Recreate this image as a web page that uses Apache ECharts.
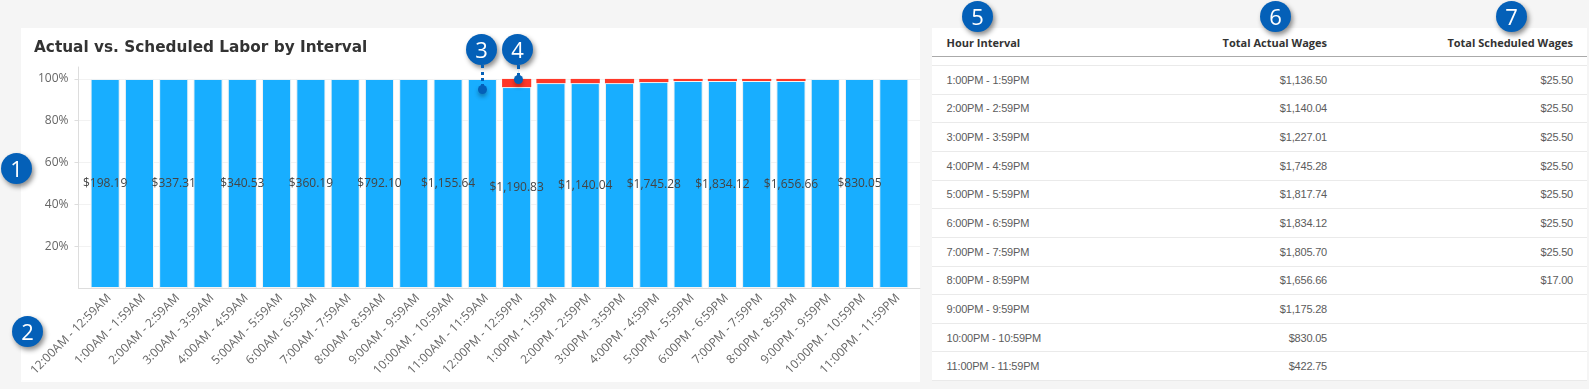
<!DOCTYPE html>
<html><head><meta charset="utf-8">
<script src="https://cdn.jsdelivr.net/npm/echarts@6/dist/echarts.min.js"></script>
<style>
html,body{margin:0;padding:0;background:#f5f5f5;width:1589px;height:389px;overflow:hidden}
#chart{position:absolute;left:0;top:0;width:1589px;height:389px}
#panel{position:absolute;left:21px;top:28px;width:899px;height:354px;background:#fff}
#tbl{position:absolute;left:932px;top:28px;width:655px;height:353px;background:#fff;font:11px "Liberation Sans",sans-serif;letter-spacing:-.2px;color:#5c5c5c}
.r{position:absolute;left:0;width:655px;border-bottom:1px solid #eaeaea;box-sizing:border-box}
.r span{position:absolute;top:50%;transform:translateY(-50%);white-space:nowrap}
.a{left:14.5px}.b{right:260px}.c{right:14px}
.h{font:700 11px "Open Sans",sans-serif;letter-spacing:0;color:#333;border-bottom:1px solid #aaa}
.n{position:absolute;width:31px;height:31px;border-radius:50%;background:#0460b8;color:#fff;font:22px/31px "Open Sans",sans-serif;text-align:center;box-shadow:2px 3px 5px rgba(0,0,0,.45);z-index:5}
.d{position:absolute;width:9px;height:9px;border-radius:50%;background:#0460b8;box-shadow:0 3px 4px rgba(0,0,0,.3);z-index:5}
.l{position:absolute;border-left:3px dotted #0460b8;z-index:5}
</style></head><body>
<div id="panel"></div>
<div id="chart"></div>
<div id="tbl"></div>
<script>
const categories=['12:00AM - 12:59AM','1:00AM - 1:59AM','2:00AM - 2:59AM','3:00AM - 3:59AM','4:00AM - 4:59AM','5:00AM - 5:59AM','6:00AM - 6:59AM','7:00AM - 7:59AM','8:00AM - 8:59AM','9:00AM - 9:59AM','10:00AM - 10:59AM','11:00AM - 11:59AM','12:00PM - 12:59PM','1:00PM - 1:59PM','2:00PM - 2:59PM','3:00PM - 3:59PM','4:00PM - 4:59PM','5:00PM - 5:59PM','6:00PM - 6:59PM','7:00PM - 7:59PM','8:00PM - 8:59PM','9:00PM - 9:59PM','10:00PM - 10:59PM','11:00PM - 11:59PM'];
const barLabels=['$198.19','','$337.31','','$340.53','','$360.19','','$792.10','','$1,155.64','','$1,190.83','','$1,140.04','','$1,745.28','','$1,834.12','','$1,656.66','','$830.05',''];
const scheduledShare=[0,0,0,0,0,0,0,0,0,0,0,0,3.9,2,2,2,1.5,1,1,1,1,0,0,0];
const actualShare=[100,100,100,100,100,100,100,100,100,100,100,100,96.1,98,98,98,98.5,99,99,99,99,100,100,100];
const tableIntervals=categories.slice(13);
const tableActual=['$1,136.50','$1,140.04','$1,227.01','$1,745.28','$1,817.74','$1,834.12','$1,805.70','$1,656.66','$1,175.28','$830.05','$422.75'];
const tableScheduled=['$25.50','$25.50','$25.50','$25.50','$25.50','$25.50','$25.50','$17.00','','',''];
const yTicks=[20,40,60,80,100];
const chart=echarts.init(document.getElementById('chart'),null,{renderer:'canvas'});
const labelFont='"Open Sans",sans-serif';
chart.setOption({
  backgroundColor:'transparent',animation:false,
  title:{text:'Actual vs. Scheduled Labor by Interval',left:29,top:35.5,textStyle:{fontFamily:'"DejaVu Sans"',fontWeight:'bold',fontSize:15.3,color:'#333'}},
  grid:[
    {left:78.5,top:67,width:841.5,height:221},
    {left:88,top:67,width:823,height:221},
    {left:92,top:67,width:823,height:221}
  ],
  xAxis:[
    {gridIndex:0,type:'value',min:0,max:1,show:true,splitLine:{show:false},axisTick:{show:false},axisLabel:{show:false},axisLine:{show:true,lineStyle:{color:'#ddd'}}},
    {gridIndex:1,type:'category',data:categories,axisLine:{show:false},axisTick:{show:false},axisLabel:{show:false}},
    {gridIndex:2,type:'category',data:categories,axisLine:{show:false},axisTick:{show:false},
     axisLabel:{interval:0,rotate:45,margin:8,color:'#666',fontSize:12,fontFamily:labelFont}}
  ],
  yAxis:[
    {gridIndex:0,type:'value',min:0,max:105.7,
     axisLine:{show:true,lineStyle:{color:'#ddd'}},
     axisTick:{show:true,length:4,lineStyle:{color:'#ddd'},customValues:yTicks},
     axisLabel:{color:'#666',fontSize:12,margin:10,fontFamily:labelFont,formatter:'{value}%',customValues:yTicks},
     splitLine:{show:true,lineStyle:{color:'#f2f2f2'}}},
    {gridIndex:1,type:'value',min:0,max:105.7,show:false},
    {gridIndex:2,type:'value',min:0,max:105.7,show:false}
  ],
  series:[
    {type:'bar',name:'Total Actual Wages',xAxisIndex:1,yAxisIndex:1,stack:'w',barWidth:'85%',data:actualShare,itemStyle:{color:'#18aeff',borderColor:'#f4f4f4',borderWidth:1},
     label:{show:true,position:'inside',color:'#444',fontSize:12,fontFamily:labelFont,formatter:p=>barLabels[p.dataIndex]}},
    {type:'bar',name:'Total Scheduled Wages',xAxisIndex:1,yAxisIndex:1,stack:'w',barWidth:'85%',data:scheduledShare,itemStyle:{color:'#ff3828'}}
  ]
});
const tbl=document.getElementById('tbl');
function row(top,h,a,b,c,cls){const d=document.createElement('div');d.className='r '+(cls||'');d.style.top=top+'px';d.style.height=h+'px';
 d.innerHTML=`<span class="a">${a}</span><span class="b">${b}</span><span class="c">${c}</span>`;tbl.appendChild(d);}
row(0,29,'Hour Interval','Total Actual Wages','Total Scheduled Wages','h');
row(29,9,'','','');
const rowH=28.65;
tableIntervals.forEach((t,k)=>row(38+k*rowH,rowH,t,tableActual[k],tableScheduled[k]));
[[1,1,153],[2,12,316],[3,466,34],[4,502,34],[5,962,1],[6,1260,1],[7,1496,1]].forEach(([t,x,y])=>{
 const e=document.createElement('div');e.className='n';e.textContent=t;e.style.left=x+'px';e.style.top=y+'px';document.body.appendChild(e);});
[[477.5,85],[513.5,75]].forEach(([x,y])=>{const e=document.createElement('div');e.className='d';e.style.left=x+'px';e.style.top=y+'px';document.body.appendChild(e);});
[[480.5,65,22],[516.5,65,12]].forEach(([x,y,h])=>{const e=document.createElement('div');e.className='l';e.style.left=x+'px';e.style.top=y+'px';e.style.height=h+'px';document.body.appendChild(e);});
</script></body></html>
